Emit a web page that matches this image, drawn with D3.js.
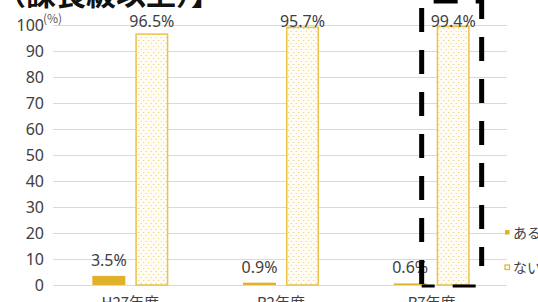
<!DOCTYPE html>
<html>
<head>
<meta charset="utf-8">
<script src="https://cdn.jsdelivr.net/npm/d3@7"></script>
<style>
  body { margin: 0; background: #fff; }
  svg { display: block; font-family: "Noto Sans CJK JP", "Noto Sans", sans-serif; }
</style>
</head>
<body>
<div id="chart"></div>
<script>
// data
var categories = ["H27年度", "R2年度", "R7年度"];
var aruValues = [3.5, 0.9, 0.6];
var naiValues = [96.5, 99.1, 99.4];
var aruLabels = ["3.5%", "0.9%", "0.6%"];
var naiLabels = ["96.5%", "95.7%", "99.4%"];
var yTicks = [0, 10, 20, 30, 40, 50, 60, 70, 80, 90, 100];
var legendNames = ["ある", "ない"];

var svgWidth = 538, svgHeight = 302;
var margin = { top: 25, right: 31, bottom: 17, left: 55 };
var gold = "#e2b12c";
var goldLine = "#ecc24c";

var svg = d3.select("#chart").append("svg")
  .attr("width", svgWidth)
  .attr("height", svgHeight);

// dotted fill for the "ない" bars
var defs = svg.append("defs");
var pat = defs.append("pattern")
  .attr("id", "dots")
  .attr("patternUnits", "userSpaceOnUse")
  .attr("width", 5).attr("height", 6);
pat.append("rect").attr("width", 5).attr("height", 6).attr("fill", "#fffdf3");
pat.append("circle").attr("cx", 1.2).attr("cy", 1.5).attr("r", 0.6).attr("fill", "#e6c55c");
pat.append("circle").attr("cx", 3.7).attr("cy", 4.5).attr("r", 0.6).attr("fill", "#e6c55c");

var xScale = d3.scaleBand()
  .domain(categories)
  .range([margin.left, svgWidth - margin.right]);

var yScale = d3.scaleLinear()
  .domain([0, 100])
  .range([svgHeight - margin.bottom, margin.top]);

// title, mostly cut off at the top
svg.append("text")
  .attr("x", -4)
  .attr("y", 5)
  .attr("font-size", 30)
  .attr("font-weight", "bold")
  .attr("fill", "#111")
  .text("（課長級以上）】");

// gridlines
svg.append("g").selectAll("line")
  .data(yTicks)
  .enter().append("line")
  .attr("x1", margin.left - 2)
  .attr("x2", svgWidth - margin.right)
  .attr("y1", d => Math.round(yScale(d)) + 0.5)
  .attr("y2", d => Math.round(yScale(d)) + 0.5)
  .attr("stroke", "#d9d9d9")
  .attr("stroke-width", 1);

// y axis labels
var yAxis = d3.axisLeft(yScale).tickValues(yTicks).tickSize(0).tickPadding(0);
var yG = svg.append("g")
  .attr("transform", "translate(44,0)")
  .call(yAxis);
yG.select(".domain").remove();
yG.selectAll("text")
  .attr("font-size", 16)
  .attr("fill", "#404040")
  .attr("font-family", "'Noto Sans', sans-serif");

svg.append("text")
  .attr("x", 43)
  .attr("y", yScale(100) - 2)
  .attr("font-size", 12)
  .attr("fill", "#595959")
  .text("(%)");

var barW = 33, gap = 10;
function center(c) { return xScale(c) + xScale.bandwidth() / 2; }

// ある bars
svg.append("g").selectAll("rect")
  .data(aruValues)
  .enter().append("rect")
  .attr("x", (d, i) => center(categories[i]) - gap / 2 - barW)
  .attr("y", d => yScale(d))
  .attr("width", barW)
  .attr("height", d => yScale(0) - yScale(d))
  .attr("fill", gold);

// ない bars
svg.append("g").selectAll("rect")
  .data(naiValues)
  .enter().append("rect")
  .attr("x", (d, i) => center(categories[i]) + gap / 2 + 0.75)
  .attr("y", d => yScale(d))
  .attr("width", barW - 1.5)
  .attr("height", d => yScale(0) - yScale(d))
  .attr("fill", "url(#dots)")
  .attr("stroke", goldLine)
  .attr("stroke-width", 1.5);

// value labels
svg.append("g").selectAll("text")
  .data(aruValues)
  .enter().append("text")
  .attr("x", (d, i) => center(categories[i]) - gap / 2 - barW / 2)
  .attr("y", d => yScale(d) - 10)
  .attr("text-anchor", "middle")
  .attr("font-size", 16)
  .attr("fill", "#404040")
  .attr("font-family", "'Noto Sans', sans-serif")
  .text((d, i) => aruLabels[i]);

svg.append("g").selectAll("text")
  .data(naiValues)
  .enter().append("text")
  .attr("x", (d, i) => center(categories[i]) + gap / 2 + barW / 2)
  .attr("y", yScale(100) + 2)
  .attr("text-anchor", "middle")
  .attr("font-size", 16)
  .attr("fill", "#404040")
  .attr("font-family", "'Noto Sans', sans-serif")
  .text((d, i) => naiLabels[i]);

// category labels, cut by the bottom edge
svg.append("g").selectAll("text")
  .data(categories)
  .enter().append("text")
  .attr("x", d => center(d))
  .attr("y", 308)
  .attr("text-anchor", "middle")
  .attr("font-size", 15)
  .attr("fill", "#404040")
  .text(d => d);

// legend
var legend = svg.append("g").selectAll("g")
  .data(legendNames)
  .enter().append("g")
  .attr("transform", (d, i) => "translate(505," + (230 + i * 35) + ")");
legend.append("rect")
  .attr("width", 4.5).attr("height", 4.5)
  .attr("fill", (d, i) => i === 0 ? gold : "#fffdf3")
  .attr("stroke", (d, i) => i === 0 ? "none" : gold)
  .attr("stroke-width", 1.2);
legend.append("text")
  .attr("x", 8)
  .attr("y", 8)
  .attr("font-size", 14)
  .attr("fill", "#404040")
  .text(d => d);

// dashed highlight around R7
var cx = center("R7年度");
var bx0 = cx - 10, bx1 = cx + 50, by0 = 1, by1 = 286;
var box = svg.append("g")
  .attr("fill", "none")
  .attr("stroke", "#000")
  .attr("stroke-dasharray", "24,18");
box.append("path")
  .attr("d", `M${bx0},${by0}H${bx1}V${by1 - 20}`)
  .attr("stroke-width", 5)
  .attr("stroke-dashoffset", 30);
box.append("path")
  .attr("d", `M${bx0},${by0}V${by1}`)
  .attr("stroke-width", 5)
  .attr("stroke-dashoffset", 35);
box.append("path")
  .attr("d", `M${bx0},${by1}H${bx1}`)
  .attr("stroke-width", 3)
  .attr("stroke-dasharray", "13,18,23,100");
</script>
</body>
</html>
